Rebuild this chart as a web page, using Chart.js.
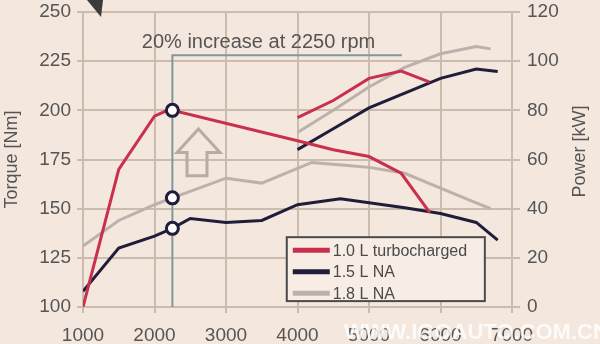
<!DOCTYPE html>
<html lang="en">
<head>
<meta charset="UTF-8">
<title>Torque and power: 1.0 L turbo vs NA engines</title>
<script src="https://cdn.jsdelivr.net/npm/chart.js"></script>
<style>
  html, body { margin: 0; padding: 0; background: #f4e7dd; }
</style>
</head>
<body>
<canvas id="engineChart" width="600" height="344"></canvas>
<script>
// values (rpm / Nm / kW)
const seriesNames = ['1.0 L turbocharged', '1.5 L NA', '1.8 L NA'];

const turboTorqueRpm = [1000, 1500, 2000, 2150, 2250, 4000, 4500, 5000, 5450, 5850];
const turboTorque    = [100, 170, 197, 199.5, 200, 184.5, 180, 176.5, 168, 148];
const turboPowerRpm  = [4000, 4500, 5000, 5450, 5850];
const turboPower     = [77, 84, 93, 96, 91.5];

const na15TorqueRpm = [1000, 1500, 2000, 2250, 2500, 3000, 3500, 4000, 4600, 5000, 5500, 6000, 6500, 6800];
const na15Torque    = [108, 130, 136, 140, 145, 143, 144, 152, 155, 153, 150.5, 147.5, 143, 134];
const na15PowerRpm  = [4000, 4500, 5000, 5500, 6000, 6500, 6800];
const na15Power     = [64, 72.5, 81, 87, 93, 96.8, 95.8];

const na18TorqueRpm = [1000, 1500, 2000, 2250, 3000, 3500, 4200, 4700, 5000, 5500, 6000, 6500, 6700];
const na18Torque    = [131, 144, 152, 155.5, 165.5, 163, 173.5, 172, 171, 168, 160.5, 153, 150];
const na18PowerRpm  = [4000, 4500, 5000, 5500, 6000, 6500, 6700];
const na18Power     = [71, 80, 89.5, 97.5, 103, 106, 105];

// highlighted points at 2250 rpm
const markerRpm    = 2250;
const markerTorque = [200, 155.5, 140];

const rpmTicks    = [1000, 2000, 3000, 4000, 5000, 6000, 7000];
const torqueTicks = [100, 125, 150, 175, 200, 225, 250];
const powerTicks  = [0, 20, 40, 60, 80, 100, 120];

const noteText = '20% increase at 2250 rpm';
const powerTitle = 'Power [kW]';
const watermark = 'WWW.IGOAUTO.COM.CN';

const colors = ['#c8304e', '#1f1d3a', '#bcb1ab'];
const bg = '#f4e7dd';
const gridColor = '#cbbcae';
const textColor = '#555555';
const fontFamily = '"Liberation Sans", Arial, sans-serif';

function pts(xs, ys) {
    return xs.map((x, i) => ({ x: x, y: ys[i] }));
}

function lineSet(label, data, color, axis) {
    return {
        label: label,
        data: data,
        yAxisID: axis,
        borderColor: color,
        backgroundColor: color,
        borderWidth: 3,
        pointRadius: 0,
        tension: 0,
        fill: false
    };
}

function fixTicks(values) {
    return function (scale) {
        scale.ticks = values.map(v => ({ value: v }));
    };
}

// background, annotation, arrow, legend, right title, watermark
const decorPlugin = {
    id: 'decor',
    beforeDraw(chart) {
        const ctx = chart.ctx;
        ctx.save();
        ctx.fillStyle = bg;
        ctx.fillRect(0, 0, chart.width, chart.height);
        ctx.restore();
    },
    beforeDatasetsDraw(chart) {
        const ctx = chart.ctx;
        const x = chart.scales.x, y = chart.scales.y;
        ctx.save();

        // 2250 rpm guide lines
        ctx.strokeStyle = '#7f979e';
        ctx.lineWidth = 2;
        ctx.beginPath();
        ctx.moveTo(x.getPixelForValue(markerRpm), y.getPixelForValue(100));
        ctx.lineTo(x.getPixelForValue(markerRpm), y.getPixelForValue(228));
        ctx.lineTo(x.getPixelForValue(5460), y.getPixelForValue(228));
        ctx.stroke();

        ctx.fillStyle = textColor;
        ctx.font = '20px ' + fontFamily;
        ctx.textAlign = 'center';
        ctx.textBaseline = 'middle';
        ctx.fillText(noteText, x.getPixelForValue(3455), y.getPixelForValue(234.5));

        // hollow up arrow
        const ax = v => x.getPixelForValue(v), ay = v => y.getPixelForValue(v);
        ctx.strokeStyle = '#b5aca6';
        ctx.lineWidth = 3;
        ctx.lineJoin = 'miter';
        ctx.beginPath();
        ctx.moveTo(ax(2615), ay(190.5));
        ctx.lineTo(ax(2916), ay(178.6));
        ctx.lineTo(ax(2734), ay(178.6));
        ctx.lineTo(ax(2734), ay(166.8));
        ctx.lineTo(ax(2455), ay(166.8));
        ctx.lineTo(ax(2455), ay(178.6));
        ctx.lineTo(ax(2315), ay(178.6));
        ctx.closePath();
        ctx.stroke();

        // dark corner of an arrow cut off at the top
        const ca = chart.chartArea;
        ctx.fillStyle = '#3b3b3b';
        ctx.beginPath();
        ctx.moveTo(ca.left + 4, 0);
        ctx.lineTo(ca.left + 20, 0);
        ctx.lineTo(ca.left + 18, 17);
        ctx.closePath();
        ctx.fill();
        ctx.restore();
    },
    afterDatasetsDraw(chart) {
        const ctx = chart.ctx;
        const x = chart.scales.x, y = chart.scales.y;
        ctx.save();

        // legend box
        const left = x.getPixelForValue(3850), right = x.getPixelForValue(6620);
        const top = y.getPixelForValue(135.5), bottom = y.getPixelForValue(103);
        ctx.fillStyle = '#f7ede5';
        ctx.fillRect(left, top, right - left, bottom - top);
        ctx.strokeStyle = '#4a4a4a';
        ctx.lineWidth = 2;
        ctx.strokeRect(left, top, right - left, bottom - top);
        ctx.font = '16px ' + fontFamily;
        ctx.textAlign = 'left';
        ctx.textBaseline = 'middle';
        seriesNames.forEach((name, i) => {
            const ry = top + 13 + i * 21.5;
            ctx.strokeStyle = colors[i];
            ctx.lineWidth = 5;
            ctx.beginPath();
            ctx.moveTo(left + 6, ry);
            ctx.lineTo(left + 43, ry);
            ctx.stroke();
            ctx.fillStyle = '#4a4a4a';
            ctx.fillText(name, left + 46, ry + 1);
        });
        ctx.restore();
    },
    afterDraw(chart) {
        const ctx = chart.ctx;
        const ca = chart.chartArea;
        ctx.save();

        // right axis title, reading bottom to top like the left one
        ctx.translate(chart.width - 20, (ca.top + ca.bottom) / 2 - 8);
        ctx.rotate(-Math.PI / 2);
        ctx.font = '18px ' + fontFamily;
        ctx.fillStyle = textColor;
        ctx.textAlign = 'center';
        ctx.textBaseline = 'middle';
        ctx.fillText(powerTitle, 0, 0);
        ctx.restore();

        ctx.save();
        ctx.font = 'bold 22px ' + fontFamily;
        ctx.textAlign = 'left';
        ctx.textBaseline = 'middle';
        ctx.fillStyle = 'rgba(255, 255, 255, 0.82)';
        ctx.fillText(watermark, 344, 333);
        ctx.restore();
    }
};

const ctx = document.getElementById('engineChart').getContext('2d');
new Chart(ctx, {
    type: 'line',
    data: {
        datasets: [
            {
                label: 'markers',
                data: markerTorque.map(v => ({ x: markerRpm, y: v })),
                yAxisID: 'y',
                showLine: false,
                pointRadius: 6,
                pointBorderWidth: 3,
                pointBorderColor: '#1f1d3a',
                pointBackgroundColor: '#ffffff'
            },
            lineSet(seriesNames[0], pts(turboTorqueRpm, turboTorque), colors[0], 'y'),
            lineSet(seriesNames[0], pts(turboPowerRpm, turboPower), colors[0], 'y1'),
            lineSet(seriesNames[1], pts(na15TorqueRpm, na15Torque), colors[1], 'y'),
            lineSet(seriesNames[1], pts(na15PowerRpm, na15Power), colors[1], 'y1'),
            lineSet(seriesNames[2], pts(na18TorqueRpm, na18Torque), colors[2], 'y'),
            lineSet(seriesNames[2], pts(na18PowerRpm, na18Power), colors[2], 'y1')
        ]
    },
    options: {
        responsive: false,
        animation: false,
        devicePixelRatio: 1,
        layout: { padding: { top: 12, left: 0, right: 0, bottom: 0 } },
        plugins: {
            legend: { display: false },
            tooltip: { enabled: false }
        },
        scales: {
            x: {
                type: 'linear',
                min: 1000,
                max: 7000,
                afterBuildTicks: fixTicks(rpmTicks),
                ticks: {
                    color: textColor,
                    font: { family: fontFamily, size: 19 },
                    padding: 11,
                    maxRotation: 0,
                    callback: v => String(v)
                },
                grid: { color: gridColor, lineWidth: 2, tickLength: 6 },
                border: { color: gridColor, width: 2 },
                afterFit(scale) {
                    scale.height = 37;
                    scale.paddingLeft = 0;
                    scale.paddingRight = 0;
                }
            },
            y: {
                position: 'left',
                min: 100,
                max: 250,
                afterBuildTicks: fixTicks(torqueTicks),
                ticks: {
                    color: textColor,
                    font: { family: fontFamily, size: 19 },
                    padding: 6
                },
                grid: { color: gridColor, lineWidth: 2, tickLength: 6 },
                border: { color: gridColor, width: 2 },
                title: {
                    display: true,
                    text: 'Torque [Nm]',
                    color: textColor,
                    font: { family: fontFamily, size: 18 },
                    padding: { top: 1, bottom: 0 }
                },
                afterFit(scale) {
                    scale.width = 83;
                    scale.paddingTop = 0;
                    scale.paddingBottom = 0;
                }
            },
            y1: {
                position: 'right',
                min: 0,
                max: 120,
                afterBuildTicks: fixTicks(powerTicks),
                ticks: {
                    color: textColor,
                    font: { family: fontFamily, size: 19 },
                    padding: 7
                },
                grid: { drawOnChartArea: false, color: gridColor, lineWidth: 2, tickLength: 8 },
                border: { color: gridColor, width: 2 },
                afterFit(scale) {
                    scale.width = 88;
                    scale.paddingTop = 0;
                    scale.paddingBottom = 0;
                }
            }
        }
    },
    plugins: [decorPlugin]
});
</script>
</body>
</html>
